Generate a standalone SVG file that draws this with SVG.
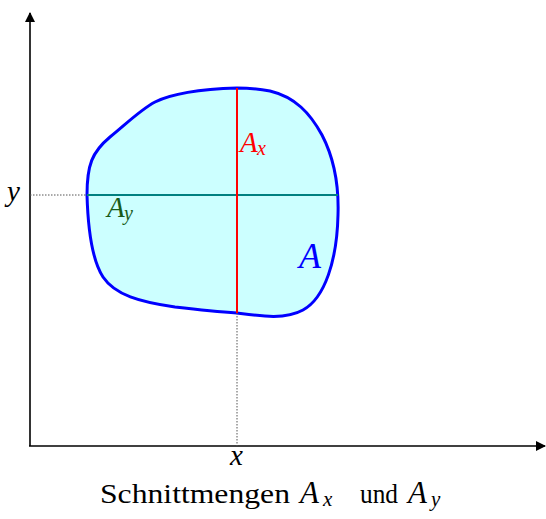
<svg xmlns="http://www.w3.org/2000/svg" width="546" height="519" viewBox="0 0 546 519">
<style>
.ax{stroke:#000;stroke-width:1.6;fill:none}
.dot{stroke:#555;stroke-width:1;stroke-dasharray:1.5,1.5;fill:none}
text{font-family:'Liberation Serif','Times New Roman',serif}
.i{font-style:italic}
</style>
<defs>
<marker id="arr" viewBox="0 0 10 10" refX="9" refY="5" markerWidth="10" markerHeight="10" markerUnits="userSpaceOnUse" orient="auto">
<path d="M0,0 L10,5 L0,10 Z" fill="#000"/>
</marker>
</defs>
<g id="axes">
<line class="ax" x1="30" y1="446" x2="30" y2="13" marker-end="url(#arr)"/>
<line class="ax" x1="29" y1="446" x2="545" y2="446" marker-end="url(#arr)"/>
</g>
<g id="region">
<path d="M237,88 C205,89 175,92 155,102 C140,110 125,125 110,137 C92,152 87,165 87,195 C88,230 92,260 103,277 C115,295 140,302 175,307 C200,310 220,312 237,313 C260,316 285,320 303,310 C325,298 337,260 338,215 C339,185 335,160 322,135 C310,113 295,97 270,91 C260,89 248,88 237,88 Z" fill="#ccffff" stroke="#0000ff" stroke-width="3"/>
<text class="i" x="299" y="268" font-size="36" fill="#0000ff">A</text>
</g>
<g id="connectors">
<line class="dot" x1="30" y1="195" x2="87" y2="195"/>
<line class="dot" x1="237" y1="313" x2="237" y2="446"/>
<line x1="87" y1="195" x2="338" y2="195" stroke="#008080" stroke-width="2"/>
<line x1="237" y1="88" x2="237" y2="313" stroke="#ff0000" stroke-width="2"/>
</g>
<g id="labels">
<text class="i" x="240" y="152" font-size="29" fill="#ff0000">A<tspan x="257" dy="3" font-size="20">x</tspan></text>
<text class="i" x="107" y="217" font-size="29" fill="#1a5c1a">A<tspan x="124" dy="3" font-size="20">y</tspan></text>
<text class="i" x="7" y="201" font-size="29" fill="#000">y</text>
<text class="i" x="230" y="465" font-size="29" fill="#000">x</text>
<text x="100" y="503" font-size="28" textLength="190" lengthAdjust="spacingAndGlyphs" fill="#000">Schnittmengen</text>
<text class="i" x="300" y="503" font-size="31" fill="#000">A<tspan x="323" dy="3" font-size="21">x</tspan></text>
<text x="360" y="503" font-size="28" textLength="38" lengthAdjust="spacingAndGlyphs" fill="#000">und</text>
<text class="i" x="408" y="503" font-size="31" fill="#000">A<tspan x="431" dy="3" font-size="21">y</tspan></text>
</g>
</svg>
